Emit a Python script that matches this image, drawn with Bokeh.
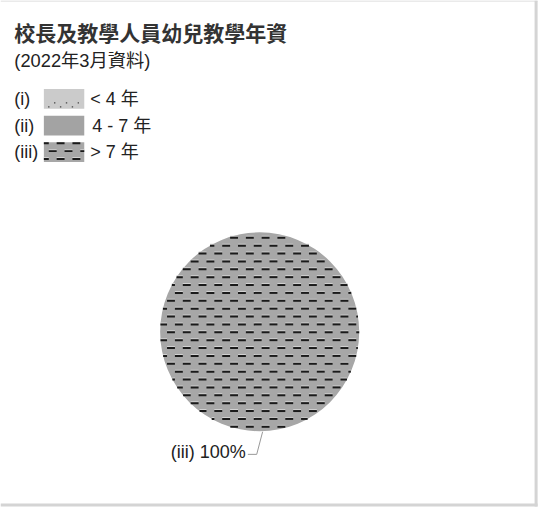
import numpy as np
from bokeh.plotting import figure
from bokeh.models import Range1d
from bokeh.core.properties import value
from bokeh.embed import file_html
from bokeh.resources import INLINE

# ---- data ----
title = "校長及教學人員幼兒教學年資"
subtitle = "(2022年3月資料)"
categories = ["(i)", "(ii)", "(iii)"]
labels = ["< 4 年", "4 - 7 年", "> 7 年"]
values = [0, 0, 100]

FONT = "Liberation Sans, Arial, Noto Sans CJK TC"
TEXT = "#222222"
fills = ["#cbcbcb", "#a3a3a3", "#a7a7a7"]
patterns = ["dot", " ", "dash"]
DASH_COLOR = "#1a1a1a"
HILITE = "#d2d2d2"


def dash_texture(xmin, xmax, ymin, ymax, extent=None, angles=None, center=None):
    """Staggered horizontal dash texture (8 long, 8 gap, rows every 8)."""
    L, R, T, B, hL, hR, hT, hB = ([] for _ in range(8))
    k0 = int(np.ceil((ymin) / 8.0))
    k1 = int(np.floor((ymax - 2) / 8.0))
    for k in range(k0, k1 + 1):
        y = 8 * k + 1
        if extent is not None:
            lo, hi = extent(y)
            if lo is None:
                continue
        else:
            lo, hi = xmin, xmax
        phase = 9 if k % 2 == 0 else 1
        m0 = int(np.floor((lo - phase) / 16.0)) - 1
        m1 = int(np.ceil((hi - phase) / 16.0)) + 1
        for m in range(m0, m1 + 1):
            a = phase + 16 * m
            b = a + 8
            a2, b2 = max(a, lo), min(b, hi)
            if b2 - a2 < 0.8:
                continue
            if angles is not None:
                cx, cy = center
                ang = np.arctan2(-(y - cy), (a2 + b2) / 2 - cx) % (2 * np.pi)
                s, e = angles
                if not (s <= ang <= e):
                    continue
            L.append(a2); R.append(b2); T.append(y - 1); B.append(y + 1)
            if y - 2 >= ymin:
                hL.append(a2); hR.append(b2); hT.append(y - 2); hB.append(y - 1)
    return (L, R, T, B), (hL, hR, hT, hB)


def dot_texture(xmin, xmax, ymin, ymax):
    """Sparse staggered dot texture (period 12 x 20)."""
    X, Y = [], []
    for yoff, phase in ((4, 7), (8, 1)):
        k0 = int(np.floor((ymin - yoff) / 20.0))
        k1 = int(np.ceil((ymax - yoff) / 20.0))
        for k in range(k0, k1 + 1):
            y = 20 * k + yoff
            if not (ymin + 1 <= y <= ymax - 1):
                continue
            m0 = int(np.floor((xmin - phase) / 12.0))
            m1 = int(np.ceil((xmax - phase) / 12.0))
            for m in range(m0, m1 + 1):
                x = phase + 12 * m
                if xmin + 1 <= x <= xmax - 1:
                    X.append(x); Y.append(y)
    return X, Y


def draw_dashes(fig, parts):
    (L, R, T, B), (hL, hR, hT, hB) = parts
    fig.quad(left=hL, right=hR, top=hT, bottom=hB, fill_color=HILITE, line_color=None)
    fig.quad(left=L, right=R, top=T, bottom=B, fill_color=DASH_COLOR, line_color=None)


p = figure(width=542, height=509, output_backend="svg", toolbar_location=None,
           x_range=Range1d(0, 550), y_range=Range1d(517, 0), min_border=0)
p.axis.visible = False
p.grid.visible = False
p.outline_line_color = None
p.background_fill_color = "white"

# frame lines (top, right, bottom)
p.line(x=[0, 545], y=[0.5, 0.5], line_color="#d4d4d4", line_width=1)
p.line(x=[543.5, 543.5], y=[0, 514], line_color="#d4d4d4", line_width=3)
p.line(x=[0, 545], y=[512.5, 512.5], line_color="#d4d4d4", line_width=3)

# titles
p.text(x=[14], y=[34], text=[title], text_font=value(FONT), text_font_size="21px",
       text_font_style="bold", text_color="#333333", text_baseline="middle")
p.text(x=[14], y=[61], text=[subtitle], text_font=value(FONT), text_font_size="18.3px",
       text_color=TEXT, text_baseline="middle")

# legend
ys = [100, 127, 154]
sw_x, sw_w, sw_h = 64.5, 41, 20
p.text(x=[14] * 3, y=ys, text=categories, text_font=value(FONT), text_font_size="18px",
       text_color=TEXT, text_baseline="middle")
for i in range(3):
    p.rect(x=[sw_x], y=[ys[i]], width=sw_w, height=sw_h, fill_color=fills[i],
           line_color=None)
    x0, x1 = sw_x - sw_w / 2, sw_x + sw_w / 2
    y0, y1 = ys[i] - sw_h / 2, ys[i] + sw_h / 2
    if patterns[i] == "dash":
        draw_dashes(p, dash_texture(x0, x1, y0, y1))
    elif patterns[i] == "dot":
        dx, dy = dot_texture(x0, x1, y0, y1)
        p.rect(x=dx, y=dy, width=1.4, height=1.4, fill_color="#444444", line_color=None)
p.text(x=[91, 93, 91], y=ys, text=labels, text_font=value(FONT), text_font_size="18px",
       text_color=TEXT, text_baseline="middle")

# pie
cx, cy, r = 263, 336.5, 101
vals = np.array(values, dtype=float)
ends = np.cumsum(vals) / vals.sum() * 2 * np.pi
starts = np.concatenate([[0], ends[:-1]])


def circle_extent(y):
    d = r * r - (y - cy) ** 2
    if d <= 0:
        return None, None
    h = np.sqrt(d)
    return cx - h, cx + h


for i in range(3):
    if vals[i] <= 0:
        continue
    p.wedge(x=[cx], y=[cy], radius=r,
            start_angle=[starts[i]], end_angle=[ends[i]], fill_color=fills[i],
            line_color=None)
    if patterns[i] == "dash":
        full = (ends[i] - starts[i]) >= 2 * np.pi - 1e-9
        draw_dashes(p, dash_texture(cx - r, cx + r, cy - r, cy + r, extent=circle_extent,
                                    angles=None if full else (starts[i], ends[i]),
                                    center=(cx, cy)))
    pct = f"{categories[i]} {vals[i] / vals.sum() * 100:.0f}%"
    p.text(x=[249], y=[459], text=[pct], text_font=value(FONT), text_font_size="18px",
           text_color=TEXT, text_baseline="middle", text_align="right")
    p.line(x=[251, 260, 266], y=[461, 461, 438], line_color="#999999", line_width=1)

open("out.html", "w").write(file_html(p, INLINE))
